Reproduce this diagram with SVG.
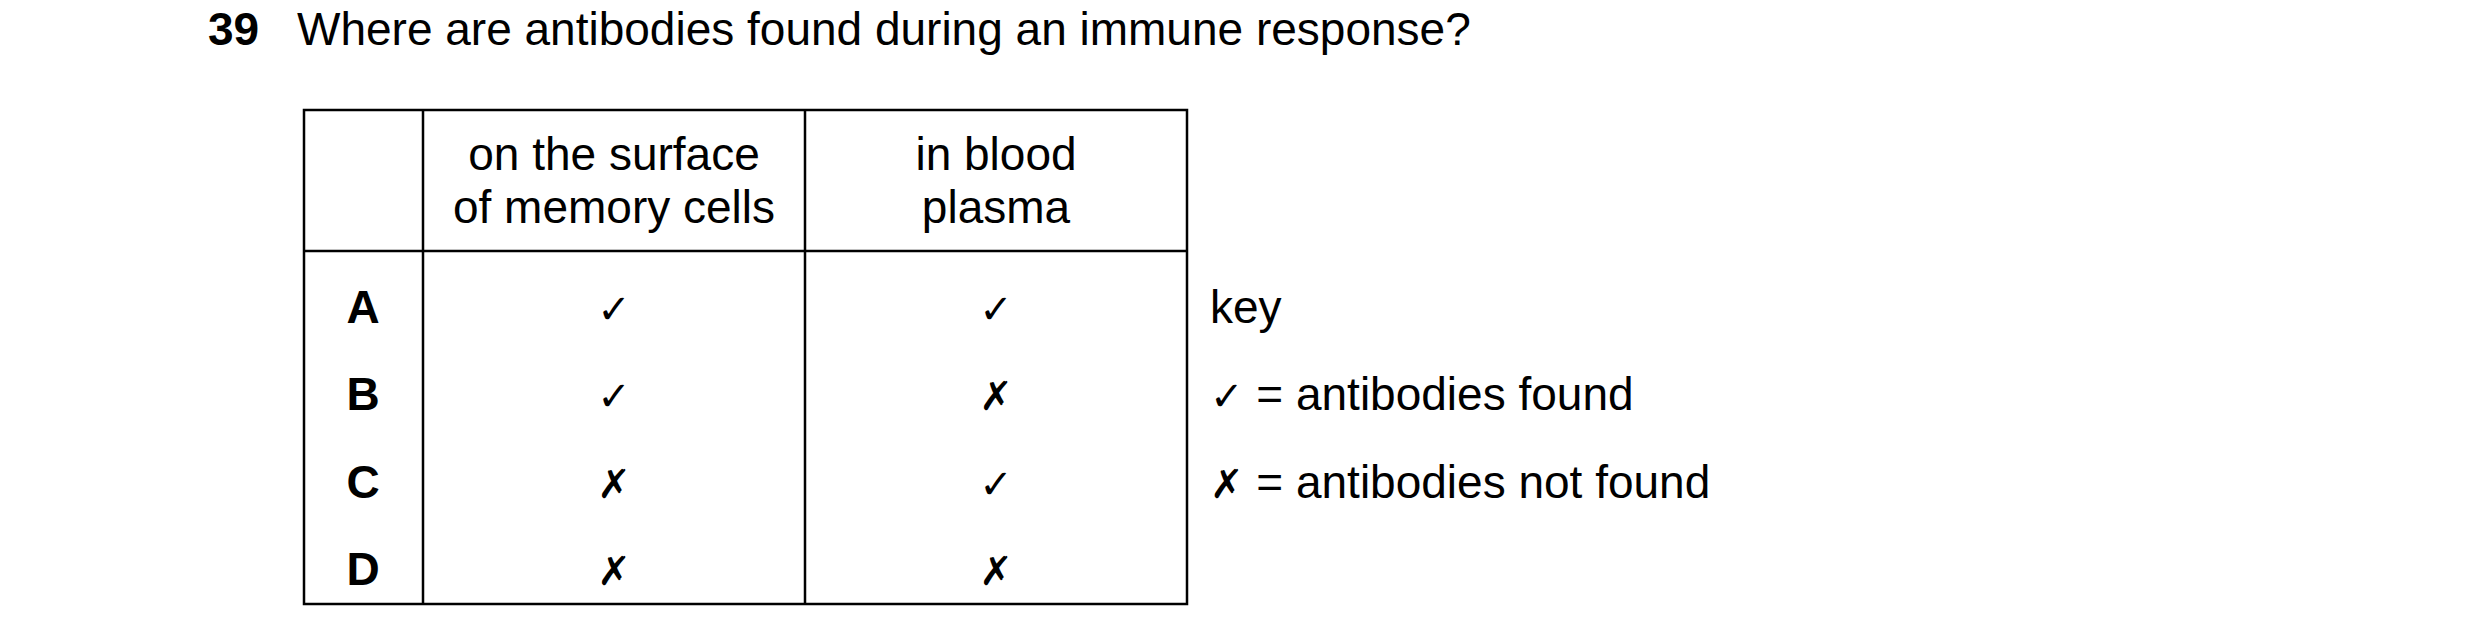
<svg xmlns="http://www.w3.org/2000/svg" width="2480" height="644" viewBox="0 0 2480 644">
<style>
text{font-family:"Liberation Sans",Arial,sans-serif;font-size:46px;fill:#000}
.b{font-weight:bold}
.c{text-anchor:middle}
.m{font-family:"DejaVu Sans",sans-serif;font-size:40px}
line{stroke:#000;stroke-width:2.5}
</style>
<rect width="2480" height="644" fill="#fff"/>
<text class="b" x="208" y="45">39</text>
<text x="297" y="45">Where are antibodies found during an immune response?</text>
<g id="table">
<rect x="304" y="110" width="883" height="494" fill="none" stroke="#000" stroke-width="2.5"/>
<line x1="423" y1="110" x2="423" y2="604"/>
<line x1="805" y1="110" x2="805" y2="604"/>
<line x1="304" y1="251" x2="1187" y2="251"/>
<text class="c" x="614" y="170">on the surface</text>
<text class="c" x="614" y="223">of memory cells</text>
<text class="c" x="996" y="170">in blood</text>
<text class="c" x="996" y="223">plasma</text>
<text class="b c" x="363" y="323">A</text>
<text class="b c" x="363" y="410">B</text>
<text class="b c" x="363" y="498">C</text>
<text class="b c" x="363" y="585">D</text>
<text class="c m" x="614" y="323">✓</text>
<text class="c m" x="996" y="323">✓</text>
<text class="c m" x="614" y="410">✓</text>
<text class="c m" x="996" y="410">✗</text>
<text class="c m" x="614" y="498">✗</text>
<text class="c m" x="996" y="498">✓</text>
<text class="c m" x="614" y="585">✗</text>
<text class="c m" x="996" y="585">✗</text>
</g>
<g id="key">
<text x="1210" y="323">key</text>
<text x="1210" y="410"><tspan class="m">✓</tspan> = antibodies found</text>
<text x="1210" y="498"><tspan class="m">✗</tspan> = antibodies not found</text>
</g>
</svg>
